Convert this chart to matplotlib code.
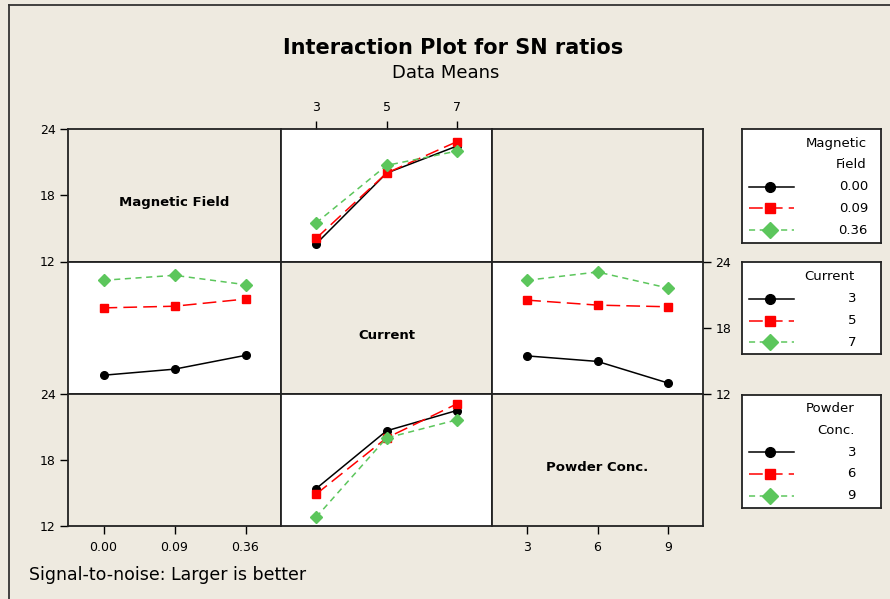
import matplotlib
matplotlib.use("Agg")
import matplotlib.pyplot as plt
from matplotlib.lines import Line2D

# factor levels
mf_levels = ["0.00", "0.09", "0.36"]
current_levels = ["3", "5", "7"]
powder_levels = ["3", "6", "9"]

# S/N ratio means: one row per trace level, one column per x level
mf_vs_current = [[13.6, 20.0, 22.45],     # Magnetic Field 0.00 / 0.09 / 0.36
                 [14.1, 20.0, 22.85],
                 [15.5, 20.7, 22.0]]
current_vs_mf = [[13.7, 14.25, 15.5],     # Current 3 / 5 / 7
                 [19.8, 19.95, 20.6],
                 [22.3, 22.75, 21.9]]
current_vs_powder = [[15.45, 14.95, 13.0],
                     [20.5, 20.05, 19.9],
                     [22.3, 23.05, 21.6]]
powder_vs_current = [[15.4, 20.65, 22.5],  # Powder Conc. 3 / 6 / 9
                     [14.9, 20.0, 23.1],
                     [12.8, 20.0, 21.65]]

y_ticks = [12, 18, 24]

BG = "#EEEAE0"
colors = ["black", "#FF0000", "#5CC65C"]
markers = ["o", "s", "D"]
msizes = [5.5, 5.8, 6.2]
dashes = [None, (9, 4), (4, 3)]

W, H = 890, 599
fig = plt.figure(figsize=(W / 100, H / 100), dpi=100, facecolor=BG)
plt.rcParams["font.family"] = "DejaVu Sans"


def px_axes(x0, y0, x1, y1):
    return fig.add_axes([x0 / W, 1 - y1 / H, (x1 - x0) / W, (y1 - y0) / H])


def draw_lines(ax, table):
    xs = [1, 2, 3]
    for i, vals in enumerate(table):
        ln, = ax.plot(xs, vals, color=colors[i], marker=markers[i],
                      markersize=msizes[i], lw=1.1, clip_on=False)
        if dashes[i]:
            ln.set_dashes(dashes[i])


# outer frame
fig.add_artist(Line2D([9 / W, 9 / W], [0, 1 - 5 / H], color="#333333", lw=1.3))
fig.add_artist(Line2D([9 / W, 1], [1 - 5 / H, 1 - 5 / H], color="#333333", lw=1.3))

fig.text(453 / W, 1 - 48 / H, "Interaction Plot for SN ratios", ha="center",
         va="center", fontsize=15, fontweight="bold")
fig.text(446 / W, 1 - 73 / H, "Data Means", ha="center", va="center", fontsize=13)
fig.text(29 / W, 1 - 575 / H, "Signal-to-noise: Larger is better", ha="left",
         va="center", fontsize=12.5)

cols = [68, 281, 492, 703]
rows = [129, 261.5, 394, 526]
plotted = {(0, 1): mf_vs_current, (1, 0): current_vs_mf,
           (1, 2): current_vs_powder, (2, 1): powder_vs_current}
diag = {0: "Magnetic Field", 1: "Current", 2: "Powder Conc."}

axes = {}
for r in range(3):
    for c in range(3):
        ax = px_axes(cols[c], rows[r], cols[c + 1], rows[r + 1])
        ax.set_xlim(0.5, 3.5)
        ax.set_ylim(12, 24)
        ax.set_xticks([])
        ax.set_yticks([])
        ax.set_facecolor("white" if (r, c) in plotted else BG)
        for s in ax.spines.values():
            s.set_linewidth(1.3)
            s.set_color("#222222")
        ax.tick_params(direction="out", length=6, width=1, labelsize=9, pad=3)
        if (r, c) in plotted:
            draw_lines(ax, plotted[(r, c)])
        if r == c:
            ax.text(0.5, 0.445, diag[r], transform=ax.transAxes, ha="center",
                    va="center", fontsize=9.5, fontweight="bold")
        axes[(r, c)] = ax

for r in (0, 2):
    axes[(r, 0)].set_yticks(y_ticks)
axes[(1, 2)].yaxis.tick_right()
axes[(1, 2)].set_yticks(y_ticks)

axes[(0, 1)].xaxis.tick_top()
axes[(0, 1)].set_xticks([1, 2, 3], current_levels)
axes[(2, 0)].set_xticks([1, 2, 3], mf_levels)
axes[(2, 2)].set_xticks([1, 2, 3], powder_levels)
for key in [(0, 1), (2, 0), (2, 2)]:
    axes[key].tick_params(axis="x", pad=5)

# legend boxes
legends = [
    ((742, 129, 881, 243), ["Magnetic", "Field"], [143, 164], 867, mf_levels, [186.5, 208, 230]),
    ((742, 262, 881, 354), ["Current"], [276.5], 855, current_levels, [298.5, 320.5, 342]),
    ((742, 395, 881, 508), ["Powder", "Conc."], [408, 430.5], 855, powder_levels, [452, 473.5, 495.5]),
]
for (x0, y0, x1, y1), title, ty, xr, labels, ey in legends:
    lg = px_axes(x0, y0, x1, y1)
    lg.set_xlim(x0, x1)
    lg.set_ylim(y1, y0)
    lg.set_xticks([])
    lg.set_yticks([])
    for s in lg.spines.values():
        s.set_linewidth(1.3)
        s.set_color("#222222")
    for t, y in zip(title, ty):
        lg.text(xr, y, t, ha="right", va="center", fontsize=9.5)
    for i, (lab, y) in enumerate(zip(labels, ey)):
        ln, = lg.plot([749, 794], [y, y], color=colors[i], lw=1.1)
        if dashes[i]:
            ln.set_dashes(dashes[i])
        lg.plot([770], [y], color=colors[i], marker=markers[i],
                markersize=msizes[i] + 1.5)
        lg.text(868 if xr == 867 else 856, y, lab, ha="right", va="center",
                fontsize=9.5)

fig.savefig("out.png", dpi=100, facecolor=BG)
